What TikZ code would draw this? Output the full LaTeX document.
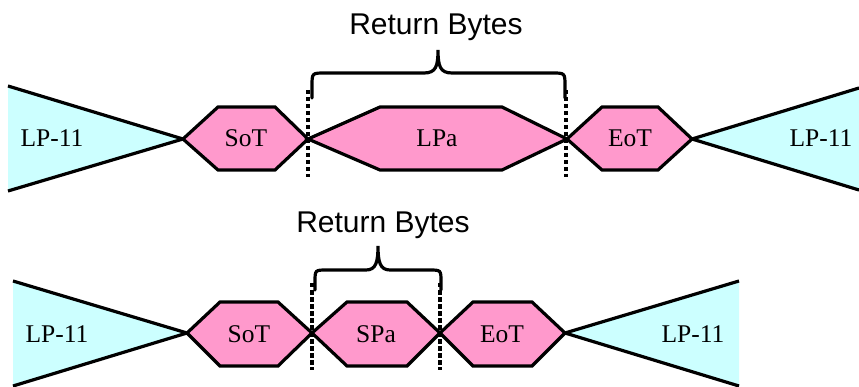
\documentclass[tikz,border=0pt]{standalone}
\usepackage{fontspec}
\setmainfont{Liberation Serif}
\newfontfamily\rbfont{Liberation Sans}
\definecolor{pinkfill}{HTML}{FF99CC}
\definecolor{cyanfill}{HTML}{CCFFFF}
\begin{document}
\begin{tikzpicture}[x=1pt,y=-1pt,
  hexa/.style={fill=pinkfill,draw=black,line width=3.2pt,line join=miter},
  wedge/.style={fill=cyanfill},
  edge/.style={draw=black,line width=3.2pt},
  cut/.style={draw=black,line width=3.8pt,dash pattern=on 4.5pt off 2.5pt},
  brace/.style={draw=black,line width=3.2pt,line cap=round},
  lbl/.style={font=\fontsize{25.5}{25.5}\selectfont,anchor=base,inner sep=0pt},
  rb/.style={font=\rbfont\fontsize{30}{30}\selectfont,anchor=base,inner sep=0pt}]
\useasboundingbox (0,0) rectangle (859,387);
% ---------- top row ----------
\coordinate (tLa) at (8,86); \coordinate (tLb) at (8,191); \coordinate (tLp) at (183,139);
\coordinate (tRa) at (859,88); \coordinate (tRb) at (859,190); \coordinate (tRp) at (692,139);
\fill[wedge] (tLa) -- (tLp) -- (tLb) -- cycle;
\draw[edge] (tLa) -- (tLp) -- (tLb);
\fill[wedge] (tRa) -- (tRp) -- (tRb) -- cycle;
\draw[edge] (tRa) -- (tRp) -- (tRb);
\draw[hexa] (183,139) -- (218,107) -- (275,107) -- (308,139) -- (275,170) -- (218,170) -- cycle;
\draw[hexa] (308,139) -- (380,107) -- (502,107) -- (567,139) -- (502,170) -- (380,170) -- cycle;
\draw[hexa] (567,139) -- (602,107) -- (658,107) -- (692,139) -- (658,170) -- (602,170) -- cycle;
\coordinate (tc1a) at (308,90); \coordinate (tc1b) at (308,177);
\coordinate (tc2a) at (566,90); \coordinate (tc2b) at (566,177);
\draw[cut] (tc1a) -- (tc1b);
\draw[cut] (tc2a) -- (tc2b);
\node[lbl] (tlp1) at (52,147) {LP-11};
\node[lbl] (tsot) at (246,147) {SoT};
\node[lbl] (tlpa) at (437,147) {LPa};
\node[lbl] (teot) at (630,147) {EoT};
\node[lbl] (tlp2) at (821,147) {LP-11};
\coordinate (tbl) at (312,98); \coordinate (tbr) at (565,98); \coordinate (tbt) at (438,50);
\draw[brace] (tbl) -- (312,86) .. controls (312,73) .. (325,73) -- (424,73)
  .. controls (436,73) and (438,66) .. (tbt)
  .. controls (438,66) and (440,73) .. (452,73) -- (552,73)
  .. controls (565,73) .. (565,86) -- (tbr);
\node[rb] (trb) at (436,35) {Return Bytes};
% ---------- bottom row ----------
\coordinate (bLa) at (13,281); \coordinate (bLb) at (13,386); \coordinate (bLp) at (187,333);
\coordinate (bRa) at (739,281); \coordinate (bRb) at (739,386); \coordinate (bRp) at (565,333);
\fill[wedge] (bLa) -- (bLp) -- (bLb) -- cycle;
\draw[edge] (bLa) -- (bLp) -- (bLb);
\fill[wedge] (bRa) -- (bRp) -- (bRb) -- cycle;
\draw[edge] (bRa) -- (bRp) -- (bRb);
\draw[hexa] (187,333) -- (220,302) -- (278,302) -- (312,333) -- (278,366) -- (220,366) -- cycle;
\draw[hexa] (312,333) -- (347,302) -- (407,302) -- (440,333) -- (407,366) -- (347,366) -- cycle;
\draw[hexa] (440,333) -- (473,302) -- (532,302) -- (565,333) -- (532,366) -- (473,366) -- cycle;
\coordinate (bc1a) at (312,283); \coordinate (bc1b) at (312,370);
\coordinate (bc2a) at (440,283); \coordinate (bc2b) at (440,370);
\draw[cut] (bc1a) -- (bc1b);
\draw[cut] (bc2a) -- (bc2b);
\node[lbl] (blp1) at (57,342) {LP-11};
\node[lbl] (bsot) at (249,342) {SoT};
\node[lbl] (bspa) at (376,342) {SPa};
\node[lbl] (beot) at (502,342) {EoT};
\node[lbl] (blp2) at (693,342) {LP-11};
\coordinate (bbl) at (315,290); \coordinate (bbr) at (441,290); \coordinate (bbt) at (378,246);
\draw[brace] (bbl) -- (315,282) .. controls (315,270) .. (327,270) -- (366,270)
  .. controls (376,270) and (378,262) .. (bbt)
  .. controls (378,262) and (380,270) .. (390,270) -- (429,270)
  .. controls (441,270) .. (441,282) -- (bbr);
\node[rb] (brb) at (383,233) {Return Bytes};
\end{tikzpicture}
\end{document}
